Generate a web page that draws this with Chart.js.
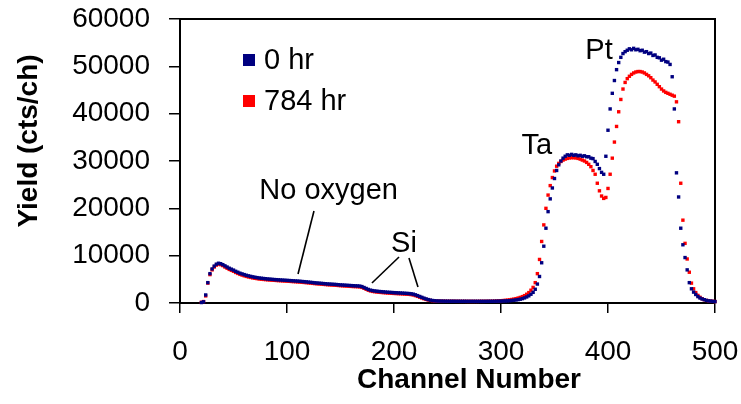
<!DOCTYPE html>
<html>
<head>
<meta charset="utf-8">
<script src="https://cdn.jsdelivr.net/npm/chart.js@4.4.1/dist/chart.umd.min.js"></script>
<style>
  body { margin: 0; background: #fff; }
</style>
</head>
<body>
<canvas id="chart" width="741" height="404"></canvas>
<script>
// channel numbers (every 2nd channel, 20..500)
const channels = [
  20, 22, 24, 26, 28, 30, 32, 34, 36, 38,
  40, 42, 44, 46, 48, 50, 52, 54, 56, 58,
  60, 62, 64, 66, 68, 70, 72, 74, 76, 78,
  80, 82, 84, 86, 88, 90, 92, 94, 96, 98,
  100, 102, 104, 106, 108, 110, 112, 114, 116, 118,
  120, 122, 124, 126, 128, 130, 132, 134, 136, 138,
  140, 142, 144, 146, 148, 150, 152, 154, 156, 158,
  160, 162, 164, 166, 168, 170, 172, 174, 176, 178,
  180, 182, 184, 186, 188, 190, 192, 194, 196, 198,
  200, 202, 204, 206, 208, 210, 212, 214, 216, 218,
  220, 222, 224, 226, 228, 230, 232, 234, 236, 238,
  240, 242, 244, 246, 248, 250, 252, 254, 256, 258,
  260, 262, 264, 266, 268, 270, 272, 274, 276, 278,
  280, 282, 284, 286, 288, 290, 292, 294, 296, 298,
  300, 302, 304, 306, 308, 310, 312, 314, 316, 318,
  320, 322, 324, 326, 328, 330, 332, 334, 336, 338,
  340, 342, 344, 346, 348, 350, 352, 354, 356, 358,
  360, 362, 364, 366, 368, 370, 372, 374, 376, 378,
  380, 382, 384, 386, 388, 390, 392, 394, 396, 398,
  400, 402, 404, 406, 408, 410, 412, 414, 416, 418,
  420, 422, 424, 426, 428, 430, 432, 434, 436, 438,
  440, 442, 444, 446, 448, 450, 452, 454, 456, 458,
  460, 462, 464, 466, 468, 470, 472, 474, 476, 478,
  480, 482, 484, 486, 488, 490, 492, 494, 496, 498,
  500
]

// yield, 0 hr
const yield0hr = [
  100, 250, 1700, 4300, 6200, 7200, 7800, 8200, 8400, 8300,
  8100, 7850, 7600, 7350, 7150, 6950, 6700, 6500, 6300, 6150,
  6000, 5860, 5740, 5630, 5530, 5440, 5360, 5290, 5230, 5180,
  5130, 5080, 5040, 5000, 4960, 4930, 4900, 4870, 4840, 4810,
  4780, 4750, 4720, 4690, 4660, 4630, 4590, 4550, 4510, 4470,
  4420, 4370, 4320, 4270, 4230, 4190, 4150, 4110, 4070, 4030,
  4000, 3970, 3940, 3910, 3870, 3830, 3800, 3770, 3740, 3710,
  3680, 3650, 3630, 3610, 3570, 3470, 3270, 3070, 2870, 2720,
  2620, 2550, 2490, 2440, 2400, 2360, 2320, 2280, 2250, 2220,
  2190, 2170, 2140, 2120, 2090, 2060, 2030, 2000, 1950, 1870,
  1730, 1560, 1380, 1200, 1020, 860, 720, 610, 530, 470,
  430, 410, 400, 390, 380, 380, 370, 370, 370, 360,
  360, 360, 360, 360, 350, 350, 350, 350, 350, 350,
  350, 350, 350, 350, 360, 360, 360, 370, 380, 390,
  400, 420, 440, 460, 490, 530, 580, 640, 710, 800,
  920, 1080, 1280, 1520, 1850, 2250, 2900, 4000, 5600, 8500,
  12000, 15800, 19300, 22000, 24300, 26300, 28000, 29200, 30000, 30600,
  31000, 31300, 31200, 31400, 31200, 31300, 31100, 31200, 31000, 31100,
  30900, 30900, 30600, 30500, 29900, 29300, 28400, 27600, 27200, 31000,
  36500, 41000, 44300, 47000, 49300, 50800, 51900, 52700, 53100, 53400,
  53700, 53500, 53800, 53500, 53600, 53300, 53400, 53000, 53100, 52700,
  52800, 52300, 52400, 51900, 51800, 51300, 51500, 51000, 50900, 50400,
  47800, 41000, 27500, 22400, 15800, 12300, 9600, 7000, 4300, 3000,
  2300, 1800, 1350, 1050, 850, 700, 550, 450, 400, 350,
  300
]

// yield, 784 hr
const yield784hr = [
  150, 300, 1500, 4200, 6000, 7000, 7600, 8000, 8200, 8100,
  7900, 7600, 7350, 7100, 6900, 6700, 6450, 6250, 6050, 5900,
  5750, 5620, 5500, 5400, 5300, 5220, 5150, 5080, 5020, 4980,
  4940, 4900, 4860, 4820, 4790, 4760, 4730, 4700, 4670, 4640,
  4610, 4580, 4550, 4520, 4490, 4460, 4420, 4380, 4340, 4300,
  4250, 4200, 4150, 4100, 4060, 4020, 3980, 3940, 3900, 3860,
  3830, 3800, 3770, 3740, 3700, 3660, 3630, 3600, 3570, 3540,
  3510, 3480, 3460, 3440, 3400, 3300, 3100, 2900, 2700, 2550,
  2450, 2380, 2320, 2270, 2230, 2190, 2150, 2110, 2080, 2050,
  2020, 2000, 1970, 1950, 1920, 1890, 1860, 1830, 1780, 1700,
  1560, 1400, 1230, 1060, 900, 760, 640, 550, 480, 430,
  400, 390, 380, 380, 370, 370, 360, 360, 360, 350,
  350, 350, 350, 350, 340, 340, 340, 340, 340, 340,
  350, 350, 350, 360, 360, 370, 380, 400, 420, 450,
  480, 520, 560, 610, 670, 740, 820, 920, 1040, 1180,
  1350, 1560, 1850, 2200, 2700, 3300, 4300, 6200, 9200, 13000,
  16500, 20000, 22800, 24800, 26500, 27900, 28900, 29500, 29900, 30200,
  30400, 30550, 30650, 30700, 30700, 30650, 30550, 30400, 30200, 30000,
  29700, 29300, 28800, 28000, 27200, 25300, 23700, 22600, 22100, 22300,
  24200, 27200, 30600, 34000, 37300, 40400, 43000, 45200, 46600, 47400,
  47900, 48300, 48600, 48800, 48900, 48900, 48800, 48600, 48300, 48000,
  47600, 47100, 46700, 46200, 45700, 45200, 44800, 44500, 44300, 44100,
  43900, 43700, 42500, 38300, 25300, 17500, 12600, 9300, 6500, 4200,
  3000, 2200, 1600, 1200, 900, 700, 550, 450, 400, 350,
  300
]

const seriesNames = ['0 hr', '784 hr']
const seriesColors = ['#000080', '#ff0000']
const xTicks = [0, 100, 200, 300, 400, 500]
const yTicks = [0, 10000, 20000, 30000, 40000, 50000, 60000]
const xTitle = 'Channel Number'
const yTitle = 'Yield (cts/ch)'

// text labels and leader lines, in data units (channel, counts)
const labels = [
  { text: 'Pt', x: 391.6, y: 53300 },
  { text: 'Ta', x: 333.4, y: 33200 },
  { text: 'No oxygen', x: 138.9, y: 23700 },
  { text: 'Si', x: 209.3, y: 12500 }
]
const leaders = [
  [125.2, 19440, 110.3, 6130],
  [204.7, 9720, 179.4, 4230],
  [214.0, 9510, 222.4, 3380]
]

const FONT = "'Liberation Sans', Arial, sans-serif"

let toPoints = vals => channels.map((c, i) => ({ x: c, y: vals[i] }))

// keep the plot box where Excel had it: no extra room for overhanging labels
let noPad = s => {
  s.paddingTop = 0
  s.paddingBottom = 0
  s.paddingLeft = 0
  s.paddingRight = 0
}

// frame, axis titles, legend and the Ta/Pt/Si/No oxygen notes
const extras = {
  id: 'extras',
  beforeDatasetsDraw(chart) {
    let { ctx, chartArea: a } = chart
    ctx.save()
    ctx.strokeStyle = '#000'
    ctx.lineWidth = 2
    ctx.beginPath()
    ctx.moveTo(a.left, a.top)
    ctx.lineTo(a.right, a.top)
    ctx.lineTo(a.right, a.bottom)
    ctx.stroke()
    ctx.restore()
  },
  afterDraw(chart) {
    let { ctx, chartArea: a, scales } = chart
    let sx = scales.x, sy = scales.y
    ctx.save()
    ctx.fillStyle = '#000'
    ctx.textAlign = 'center'
    ctx.textBaseline = 'middle'

    // axis titles (Excel puts them a bit off the plot centre)
    ctx.font = 'bold 28px ' + FONT
    ctx.fillText(xTitle, 469, 380)
    ctx.save()
    ctx.translate(29, 141)
    ctx.rotate(-Math.PI / 2)
    ctx.fillText(yTitle, 0, 0)
    ctx.restore()

    ctx.font = '29px ' + FONT
    for (const l of labels) {
      ctx.fillText(l.text, sx.getPixelForValue(l.x), sy.getPixelForValue(l.y))
    }
    ctx.strokeStyle = '#000'
    ctx.lineWidth = 1.6
    for (const [x1, y1, x2, y2] of leaders) {
      ctx.beginPath()
      ctx.moveTo(sx.getPixelForValue(x1), sy.getPixelForValue(y1))
      ctx.lineTo(sx.getPixelForValue(x2), sy.getPixelForValue(y2))
      ctx.stroke()
    }
    // legend inside the plot
    ctx.textAlign = 'left'
    seriesNames.forEach((name, i) => {
      let cy = a.top + 41 + i * 41
      ctx.fillStyle = seriesColors[i]
      ctx.fillRect(a.left + 63, cy - 6, 12, 12)
      ctx.fillStyle = '#000'
      ctx.fillText(name, a.left + 84, cy + 1)
    })
    ctx.restore()
  }
}

let tickFont = { family: FONT, size: 28 }

new Chart(document.getElementById('chart'), {
  type: 'scatter',
  data: {
    datasets: [yield0hr, yield784hr].map((vals, i) => ({
      label: seriesNames[i],
      data: toPoints(vals),
      pointStyle: 'rect',
      pointRadius: 2.4,
      pointBorderWidth: 0,
      backgroundColor: seriesColors[i],
      borderColor: seriesColors[i],
      showLine: false,
      clip: false
    }))
  },
  options: {
    responsive: false,
    animation: false,
    devicePixelRatio: 1,
    layout: { padding: { top: 19, right: 26, left: 0, bottom: 0 } },
    plugins: { legend: { display: false }, tooltip: { enabled: false } },
    scales: {
      x: {
        type: 'linear',
        min: 0, max: 500,
        afterBuildTicks: s => { s.ticks = xTicks.map(v => ({ value: v })) },
        afterFit: s => { s.height = 101; noPad(s) },
        ticks: { font: tickFont, color: '#000', padding: 22, maxRotation: 0, autoSkip: false, callback: v => String(v) },
        grid: { drawOnChartArea: false, tickLength: 10, color: '#000', lineWidth: 1.5 },
        border: { color: '#000', width: 2 }
      },
      y: {
        min: 0, max: 60000,
        afterBuildTicks: s => { s.ticks = yTicks.map(v => ({ value: v })) },
        afterFit: s => { s.width = 180; noPad(s) },
        ticks: { font: tickFont, color: '#000', padding: 19, autoSkip: false, callback: v => String(v) },
        grid: { drawOnChartArea: false, tickLength: 11, color: '#000', lineWidth: 1.5 },
        border: { color: '#000', width: 2 }
      }
    }
  },
  plugins: [extras]
})
</script>
</body>
</html>
